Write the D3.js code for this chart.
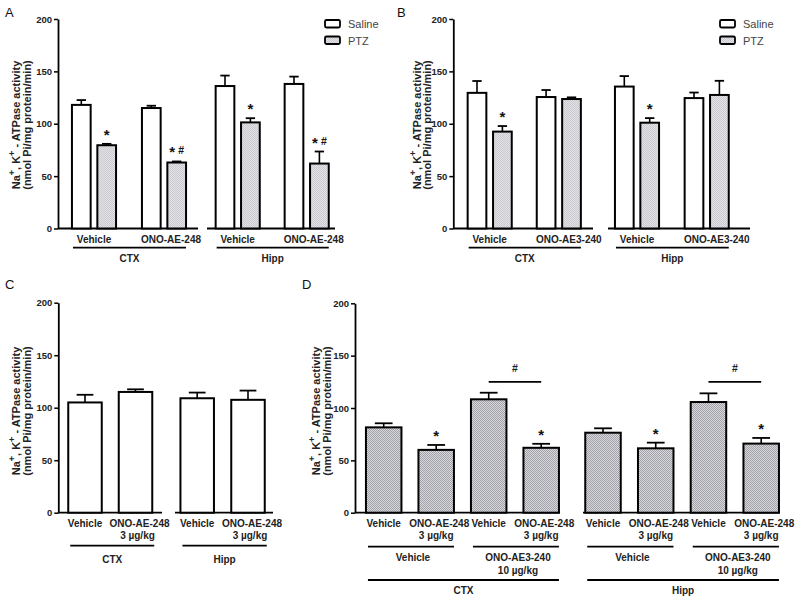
<!DOCTYPE html>
<html><head><meta charset="utf-8">
<script src="https://cdn.jsdelivr.net/npm/d3@7"></script>
<style>body{margin:0;background:#fff} svg{display:block} text{font-family:"Liberation Sans",Arial,sans-serif}</style>
</head><body><svg id="c" width="800" height="599"></svg>
<script>
// ---------- data ----------
const yTicks = [0, 50, 100, 150, 200];
const tissues = ['CTX', 'Hipp'];
const seriesAB = ['Saline', 'PTZ'];
// Panel A
const aTreat = ['Vehicle', 'ONO-AE-248'];
const aSaline = [118, 115, 136, 138];
const aSalineErr = [4.6, 2.2, 10, 7];
const aPTZ = [79.5, 63, 101.3, 62];
const aPTZErr = [1.3, 1, 4, 11.5];
const aPTZMarks = ['*', '*#', '*', '*#'];
// Panel B
const bTreat = ['Vehicle', 'ONO-AE3-240'];
const bSaline = [129.5, 125.5, 135.5, 124.5];
const bSalineErr = [11.3, 6.7, 10, 5.3];
const bPTZ = [92.5, 123.6, 101, 127.5];
const bPTZErr = [5.3, 1.6, 4.4, 13.5];
const bPTZMarks = ['*', '', '*', ''];
// Panel C
const cTreat = ['Vehicle', 'ONO-AE-248'];
const cDose = ['', '3 µg/kg'];
const cValues = [105, 115, 109, 107.5];
const cErr = [7.3, 2.5, 5.4, 8.8];
// Panel D
const dTreat = ['Vehicle', 'ONO-AE-248', 'Vehicle', 'ONO-AE-248'];
const dDose = ['', '3 µg/kg', '', '3 µg/kg'];
const dPre = ['Vehicle', 'ONO-AE3-240'];
const dPreDose = ['', '10 µg/kg'];
const dValues = [81.5, 60, 108.3, 62, 76.4, 61.5, 105.7, 66];
const dErr = [3.9, 4.7, 6.3, 3.8, 4.2, 5.4, 8.3, 5.4];
const dMarks = ['', '*', '', '*', '', '*', '', '*'];
const dBracket = [125, 125];

// ---------- setup ----------
const svg = d3.select('#c');
const defs = svg.append('defs');
function pattern(id, light, dark) {
  const p = defs.append('pattern').attr('id', id).attr('patternUnits', 'userSpaceOnUse')
    .attr('width', 2).attr('height', 2);
  p.append('rect').attr('width', 2).attr('height', 2).attr('fill', light);
  p.append('rect').attr('width', 1).attr('height', 1).attr('fill', dark);
  p.append('rect').attr('x', 1).attr('y', 1).attr('width', 1).attr('height', 1).attr('fill', dark);
}
pattern('patA', '#e2e2e6', '#cbcbd1');
pattern('patD', '#d8d8dc', '#a2a2aa');
const FILL = {Saline: '#fff', PTZ: 'url(#patA)'};

function yAxis(x, y) {
  const g = svg.append('g').attr('transform', `translate(${x},0)`)
    .call(d3.axisLeft(y).tickValues(yTicks).tickSize(4).tickSizeOuter(0).tickPadding(2));
  g.select('.domain').attr('stroke', '#000').attr('stroke-width', 1.8);
  g.selectAll('.tick line').attr('stroke', '#000').attr('stroke-width', 1.5);
  g.selectAll('.tick text').attr('font-size', 9.5).attr('font-weight', 'bold')
    .attr('font-family', '"Liberation Sans",Arial,sans-serif').attr('fill', '#222');
}
function yLabel(x1, x2, yc) {
  const t1 = svg.append('text').attr('transform', `translate(${x1},${yc}) rotate(-90)`)
    .attr('text-anchor', 'middle').attr('font-size', 11).attr('font-weight', 'bold').attr('fill', '#222');
  t1.append('tspan').text('Na');
  t1.append('tspan').attr('baseline-shift', 'super').attr('font-size', 9).text('+');
  t1.append('tspan').text(', K');
  t1.append('tspan').attr('baseline-shift', 'super').attr('font-size', 9).text('+');
  t1.append('tspan').text(' - ATPase activity');
  svg.append('text').attr('transform', `translate(${x2},${yc}) rotate(-90)`)
    .attr('text-anchor', 'middle').attr('font-size', 11).attr('font-weight', 'bold').attr('fill', '#222')
    .text('(nmol Pi/mg protein/min)');
}
function xLine(x0, x1, y) {
  svg.append('line').attr('x1', x0).attr('x2', x1).attr('y1', y).attr('y2', y)
    .attr('stroke', '#000').attr('stroke-width', 1.8);
}
function bar(cx, w, y, v, e, fill) {
  svg.append('line').attr('x1', cx).attr('x2', cx).attr('y1', y(v)).attr('y2', y(v + e))
    .attr('stroke', '#000').attr('stroke-width', 1.6);
  svg.append('line').attr('x1', cx - w / 4).attr('x2', cx + w / 4).attr('y1', y(v + e)).attr('y2', y(v + e))
    .attr('stroke', '#000').attr('stroke-width', 1.8);
  svg.append('rect').attr('x', cx - w / 2).attr('width', w).attr('y', y(v)).attr('height', y(0) - y(v))
    .attr('fill', fill).attr('stroke', '#000').attr('stroke-width', 2);
}
function mark(cx, ytop, m) {
  if (!m) return;
  const t = svg.append('text').attr('x', cx).attr('y', ytop - 4).attr('text-anchor', 'middle')
    .attr('font-weight', 'bold').attr('fill', '#111');
  for (const ch of m) {
    if (ch === '*') t.append('tspan').attr('font-size', 15).text('*');
    else t.append('tspan').attr('font-size', 10.5).attr('dx', 3).attr('dy', -3).text('#');
  }
}
function label(x, y, s, size = 10, bold = true) {
  if (!s) return;
  svg.append('text').attr('x', x).attr('y', y).attr('text-anchor', 'middle')
    .attr('font-size', size).attr('font-weight', bold ? 'bold' : 'normal').attr('fill', '#222').text(s);
}
function legend(x, y0) {
  seriesAB.forEach((s, i) => {
    const yy = y0 + i * 16.5;
    svg.append('rect').attr('x', x).attr('y', yy).attr('width', 15).attr('height', 7.5).attr('rx', 1.5)
      .attr('fill', FILL[s]).attr('stroke', '#000').attr('stroke-width', 1.8);
    svg.append('text').attr('x', x + 23).attr('y', yy + 8).attr('font-size', 11).attr('fill', '#444').text(s);
  });
}
function letter(s, x, y) {
  svg.append('text').attr('x', x).attr('y', y).attr('font-size', 13).attr('fill', '#111').text(s);
}

// ---------- panels A & B ----------
function panelAB(cfg) {
  const y = d3.scaleLinear().domain([0, 200]).range([cfg.y0, cfg.y200]);
  const inner = d3.scalePoint().domain(seriesAB).range([-12.7, 12.7]);
  const bw = 18.7;
  tissues.forEach((tis, ti) => {
    const xs = d3.scalePoint().domain(cfg.treat).range(cfg.pts[ti]);
    xLine(cfg.lines[ti][0], cfg.lines[ti][1], cfg.y0);
    cfg.treat.forEach((tr, k) => {
      const idx = ti * 2 + k;
      const c = xs(tr);
      bar(c + inner('Saline'), bw, y, cfg.saline[idx], cfg.salineErr[idx], FILL.Saline);
      bar(c + inner('PTZ'), bw, y, cfg.ptz[idx], cfg.ptzErr[idx], FILL.PTZ);
      mark(c + inner('PTZ'), y(cfg.ptz[idx] + cfg.ptzErr[idx]), cfg.marks[idx]);
      label(c + (k === 1 ? cfg.dx : 0), 242.5, tr);
    });
    const left = xs(cfg.treat[0]) + inner('Saline') - bw / 2 + 1;
    const right = xs(cfg.treat[1]) + inner('PTZ') + bw / 2;
    xLine(left, right, 247.7);
    label((left + right) / 2, 261.5, tis);
  });
  yAxis(cfg.ax, y);
  yLabel(cfg.lx1, cfg.lx2, 125);
  legend(cfg.legX, 20);
}
panelAB({y0: 228.5, y200: 19, ax: 58, lx1: 20, lx2: 31, legX: 325, dx: 7,
  treat: aTreat, saline: aSaline, salineErr: aSalineErr, ptz: aPTZ, ptzErr: aPTZErr, marks: aPTZMarks,
  pts: [[94, 164], [237.7, 306.7]], lines: [[58, 198], [207, 335]]});
panelAB({y0: 228.5, y200: 19, ax: 453.3, lx1: 420.5, lx2: 431, legX: 720, dx: 10,
  treat: bTreat, saline: bSaline, salineErr: bSalineErr, ptz: bPTZ, ptzErr: bPTZErr, marks: bPTZMarks,
  pts: [[489.7, 558.8], [637, 706.7]], lines: [[453, 593], [608, 750]]});

// ---------- panel C ----------
(function () {
  const y = d3.scaleLinear().domain([0, 200]).range([512.7, 302.7]);
  const bw = 33.5;
  const pts = [[85, 135.5], [197.2, 248]];
  const lines = [[58, 162], [175, 273]];
  tissues.forEach((tis, ti) => {
    const xs = d3.scalePoint().domain(cTreat).range(pts[ti]);
    xLine(lines[ti][0], lines[ti][1], 512.7);
    cTreat.forEach((tr, k) => {
      const idx = ti * 2 + k;
      bar(xs(tr), bw, y, cValues[idx], cErr[idx], '#fff');
      label(xs(tr) + (k === 1 ? 4 : 0), 527, tr);
      label(xs(tr) + 2, 538.5, cDose[k]);
    });
    const left = xs(cTreat[0]) - bw / 2 + 2, right = xs(cTreat[1]) + bw / 2 + 2;
    xLine(left, right, 545.7);
    label((left + right) / 2, 562.5, tis);
  });
  yAxis(58.3, y);
  yLabel(20, 31, 411);
})();

// ---------- panel D ----------
(function () {
  const y = d3.scaleLinear().domain([0, 200]).range([512.7, 303.3]);
  const bw = 35.5;
  const pts = [[383.7, 541.2], [603, 761.2]];
  const lines = [[355, 560], [583, 780]];
  tissues.forEach((tis, ti) => {
    const keys = dTreat.map((d, i) => i);
    const xs = d3.scalePoint().domain(keys).range(pts[ti]);
    xLine(lines[ti][0], lines[ti][1], 512.7);
    keys.forEach(k => {
      const idx = ti * 4 + k;
      bar(xs(k), bw, y, dValues[idx], dErr[idx], 'url(#patD)');
      mark(xs(k), y(dValues[idx] + dErr[idx]), dMarks[idx]);
      label(xs(k) + (k % 2 ? 3 : 0), 527, dTreat[k]);
      label(xs(k), 538.5, dDose[k]);
    });
    dPre.forEach((p, j) => {
      const l = xs(j * 2) - bw / 2 + 2, r = xs(j * 2 + 1) + bw / 2;
      xLine(l, r, 546.7);
      label((l + r) / 2 + 2, 561, p);
      label((l + r) / 2 + 2, 573.5, dPreDose[j]);
    });
    const left = xs(0) - bw / 2 + 2, right = xs(3) + bw / 2;
    xLine(left, right, 580);
    label((left + right) / 2, 593.5, tis);
    // # bracket between ONO-AE3-240 groups
    const by = y(dBracket[ti]);
    xLine(xs(2), xs(3), by);
    label((xs(2) + xs(3)) / 2, by - 10, '#', 10.5);
  });
  yAxis(355, y);
  yLabel(320, 331, 411);
})();

letter('A', 5, 17);
letter('B', 397, 17);
letter('C', 5, 289);
letter('D', 302, 289);
</script></body></html>
